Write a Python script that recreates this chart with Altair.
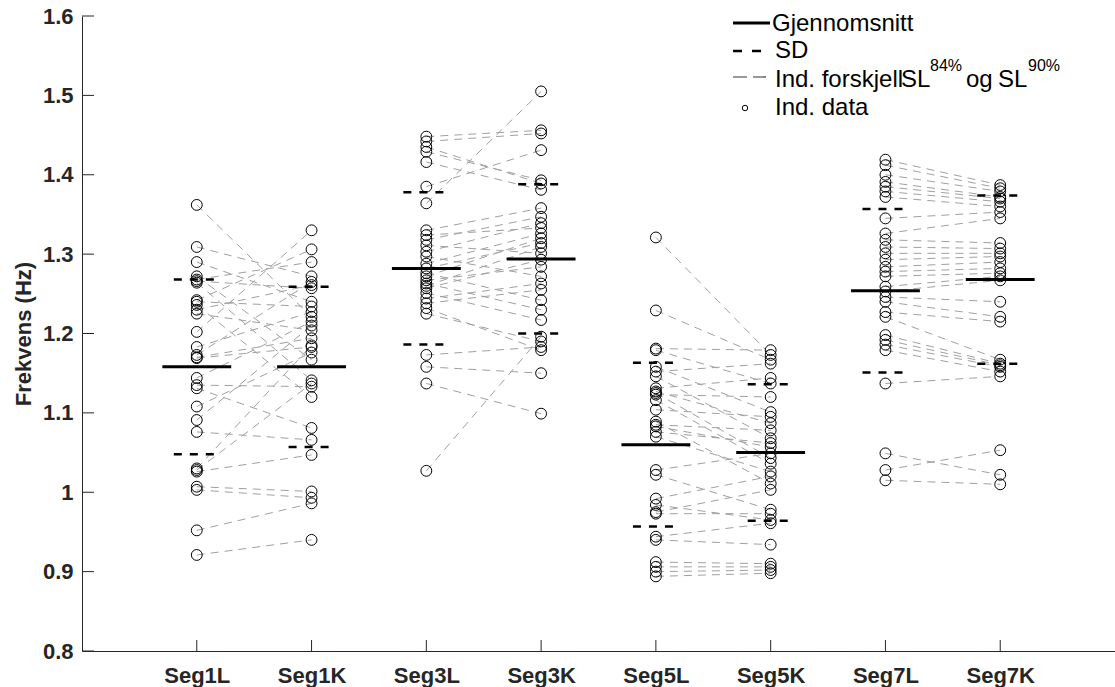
import altair as alt
import pandas as pd

categories = ["Seg1L", "Seg1K", "Seg3L", "Seg3K", "Seg5L", "Seg5K", "Seg7L", "Seg7K"]

# individual data, listed in subject order (L value i is paired with K value i)
seg1L = [1.362, 1.309, 1.290, 1.272, 1.268, 1.266, 1.264, 1.242, 1.240, 1.236,
         1.230, 1.225, 1.202, 1.183, 1.173, 1.170, 1.169, 1.144, 1.135, 1.131,
         1.108, 1.091, 1.076, 1.030, 1.028, 1.026, 1.007, 1.003, 0.952, 0.921]
seg1K = [1.221, 1.272, 1.240, 1.167, 1.290, 1.257, 1.141, 1.306, 1.234, 1.120,
         1.261, 1.204, 1.330, 1.227, 1.265, 1.194, 1.183, 1.215, 1.133, 1.081,
         1.176, 1.210, 1.066, 1.185, 1.137, 1.047, 1.001, 0.993, 0.986, 0.940]
seg3L = [1.448, 1.442, 1.435, 1.429, 1.416, 1.385, 1.364, 1.330, 1.324, 1.318,
         1.311, 1.303, 1.297, 1.288, 1.282, 1.276, 1.272, 1.267, 1.263, 1.260,
         1.257, 1.251, 1.244, 1.238, 1.232, 1.225, 1.173, 1.158, 1.137, 1.027]
seg3K = [1.456, 1.452, 1.389, 1.393, 1.381, 1.431, 1.505, 1.358, 1.333, 1.347,
         1.301, 1.339, 1.272, 1.326, 1.314, 1.242, 1.320, 1.284, 1.230, 1.309,
         1.293, 1.217, 1.263, 1.255, 1.179, 1.190, 1.183, 1.150, 1.099, 1.196]
seg5L = [1.321, 1.229, 1.181, 1.179, 1.158, 1.152, 1.146, 1.131, 1.127, 1.125,
         1.123, 1.116, 1.104, 1.089, 1.085, 1.083, 1.076, 1.070, 1.028, 1.022,
         0.992, 0.984, 0.975, 0.973, 0.944, 0.940, 0.912, 0.906, 0.900, 0.894]
seg5K = [1.173, 1.167, 1.179, 1.137, 1.101, 1.162, 1.068, 1.144, 1.087, 1.043,
         1.120, 1.036, 1.095, 1.011, 1.078, 1.057, 1.062, 1.026, 1.049, 0.978,
         1.020, 0.965, 1.003, 0.973, 0.961, 0.934, 0.910, 0.906, 0.902, 0.898]
seg7L = [1.419, 1.412, 1.400, 1.391, 1.385, 1.379, 1.372, 1.345, 1.326, 1.318,
         1.309, 1.301, 1.293, 1.284, 1.278, 1.272, 1.259, 1.253, 1.246, 1.240,
         1.227, 1.221, 1.198, 1.192, 1.186, 1.179, 1.137, 1.049, 1.028, 1.015]
seg7K = [1.387, 1.383, 1.379, 1.372, 1.370, 1.366, 1.360, 1.353, 1.345, 1.314,
         1.307, 1.301, 1.297, 1.290, 1.282, 1.276, 1.272, 1.267, 1.240, 1.221,
         1.215, 1.167, 1.162, 1.160, 1.158, 1.152, 1.146, 1.022, 1.053, 1.010]

means = [1.158, 1.158, 1.282, 1.294, 1.060, 1.050, 1.254, 1.268]
sds = [0.110, 0.101, 0.096, 0.094, 0.103, 0.086, 0.103, 0.106]

y_ticks = [0.8, 0.9, 1.0, 1.1, 1.2, 1.3, 1.4, 1.5, 1.6]
x_ticks = [1, 2, 3, 4, 5, 6, 7, 8]

pairs = [(seg1L, seg1K), (seg3L, seg3K), (seg5L, seg5K), (seg7L, seg7K)]
rows = []
for p, (a, b) in enumerate(pairs):
    for s, (va, vb) in enumerate(zip(a, b)):
        rows.append({"pos": 2 * p + 1, "value": va, "subj": f"{p}-{s}"})
        rows.append({"pos": 2 * p + 2, "value": vb, "subj": f"{p}-{s}"})
df = pd.DataFrame(rows)
stats = pd.DataFrame({"pos": x_ticks, "mean": means, "sd": sds})
yt = pd.DataFrame({"v": y_ticks})
xt = pd.DataFrame({"p": x_ticks})

FONT = "Liberation Sans"
AX = "#262626"
W, H = 1033, 635
LBL = 22

xs = alt.Scale(domain=[0, 9], nice=False, zero=False)
ys = alt.Scale(domain=[0.8, 1.6], nice=False, zero=False)
label_expr = "[''," + ",".join(f"'{c}'" for c in categories) + "][datum.value]"
x_axis = alt.Axis(values=x_ticks, labelExpr=label_expr, title=None, labelPadding=14,
                  tickSize=0, grid=False, labelFont=FONT, labelFontWeight="bold",
                  labelFontSize=LBL, labelColor=AX, domainColor=AX, domainWidth=1)
y_axis = alt.Axis(values=y_ticks, format=".1~f", title="Frekvens (Hz)", labelPadding=9,
                  tickSize=0, grid=False, titlePadding=7, labelFont=FONT,
                  labelFontWeight="bold", labelFontSize=LBL, labelColor=AX,
                  titleFont=FONT, titleFontWeight="bold", titleFontSize=LBL,
                  titleColor=AX, domainColor=AX, domainWidth=1)

pair_lines = alt.Chart(df).mark_line(color="#a0a0a0", strokeWidth=1, strokeDash=[8, 6]).encode(
    x=alt.X("pos:Q", scale=xs, axis=x_axis),
    y=alt.Y("value:Q", scale=ys, axis=y_axis),
    detail="subj:N",
)

points = alt.Chart(df).mark_point(shape="circle", filled=False, size=118, color="black",
                                  strokeWidth=1, opacity=1).encode(
    x=alt.X("pos:Q", scale=xs, axis=x_axis),
    y=alt.Y("value:Q", scale=ys, axis=y_axis),
)

stat_base = alt.Chart(stats).transform_calculate(
    lo="datum.pos - 0.3", hi="datum.pos + 0.3",
    slo="datum.pos - 0.2", shi="datum.pos + 0.2",
    up="datum.mean + datum.sd", dn="datum.mean - datum.sd",
)
mean_rule = stat_base.mark_rule(color="black", strokeWidth=3).encode(
    x=alt.X("lo:Q", scale=xs, axis=x_axis), x2="hi:Q",
    y=alt.Y("mean:Q", scale=ys, axis=y_axis),
)
sd_up = stat_base.mark_rule(color="black", strokeWidth=2.5, strokeDash=[8, 8]).encode(
    x=alt.X("slo:Q", scale=xs, axis=x_axis), x2="shi:Q",
    y=alt.Y("up:Q", scale=ys, axis=y_axis),
)
sd_dn = stat_base.mark_rule(color="black", strokeWidth=2.5, strokeDash=[8, 8]).encode(
    x=alt.X("slo:Q", scale=xs, axis=x_axis), x2="shi:Q",
    y=alt.Y("dn:Q", scale=ys, axis=y_axis),
)

ytick_marks = alt.Chart(yt).mark_rule(color=AX, strokeWidth=1).encode(
    y=alt.Y("v:Q", scale=ys, axis=y_axis), x=alt.value(0), x2=alt.value(12),
)
xtick_marks = alt.Chart(xt).mark_rule(color=AX, strokeWidth=1).encode(
    x=alt.X("p:Q", scale=xs, axis=x_axis), y=alt.value(H), y2=alt.value(H - 11),
)

one = alt.Data(values=[{"a": 1}])
OX, OY = 82, 16  # page offset of plot area
LF = 24  # legend font size
SF = 16  # superscript font size


def lrule(x1, x2, y, **kw):
    return alt.Chart(one).mark_rule(**kw).encode(
        x=alt.value(x1 - OX), x2=alt.value(x2 - OX), y=alt.value(y - OY))


def ltext(txt, x, y, size=LF):
    return alt.Chart(one).mark_text(align="left", baseline="alphabetic", font=FONT,
                                    fontSize=size, color="black").encode(
        x=alt.value(x - OX), y=alt.value(y - OY), text=alt.value(txt))


legend = [
    lrule(733, 770, 23, color="black", strokeWidth=3),
    ltext("Gjennomsnitt", 772, 31),
    lrule(733, 763, 51, color="black", strokeWidth=2.5, strokeDash=[9, 10]),
    ltext("SD", 775, 58),
    lrule(733, 766, 77, color="#333333", strokeWidth=1.2, strokeDash=[14, 6]),
    ltext("Ind. forskjell", 775, 87),
    ltext("SL", 901, 87),
    ltext("84%", 930, 71, SF),
    ltext("og", 966, 87),
    ltext("SL", 998, 87),
    ltext("90%", 1028, 71, SF),
    alt.Chart(one).mark_point(shape="circle", filled=False, size=30, color="black",
                              strokeWidth=1, opacity=1).encode(
        x=alt.value(745 - OX), y=alt.value(108 - OY)),
    ltext("Ind. data", 775, 115),
]

chart = alt.layer(
    pair_lines, sd_up, sd_dn, mean_rule, points, ytick_marks, xtick_marks, *legend
).properties(
    width=W, height=H, background="white",
    padding={"left": OX, "top": OY, "right": 0, "bottom": 687 - OY - H},
    autosize=alt.AutoSizeParams(type="none"),
).configure_view(stroke=None)

chart.save("out.html", embed_options={"renderer": "svg", "actions": False})
